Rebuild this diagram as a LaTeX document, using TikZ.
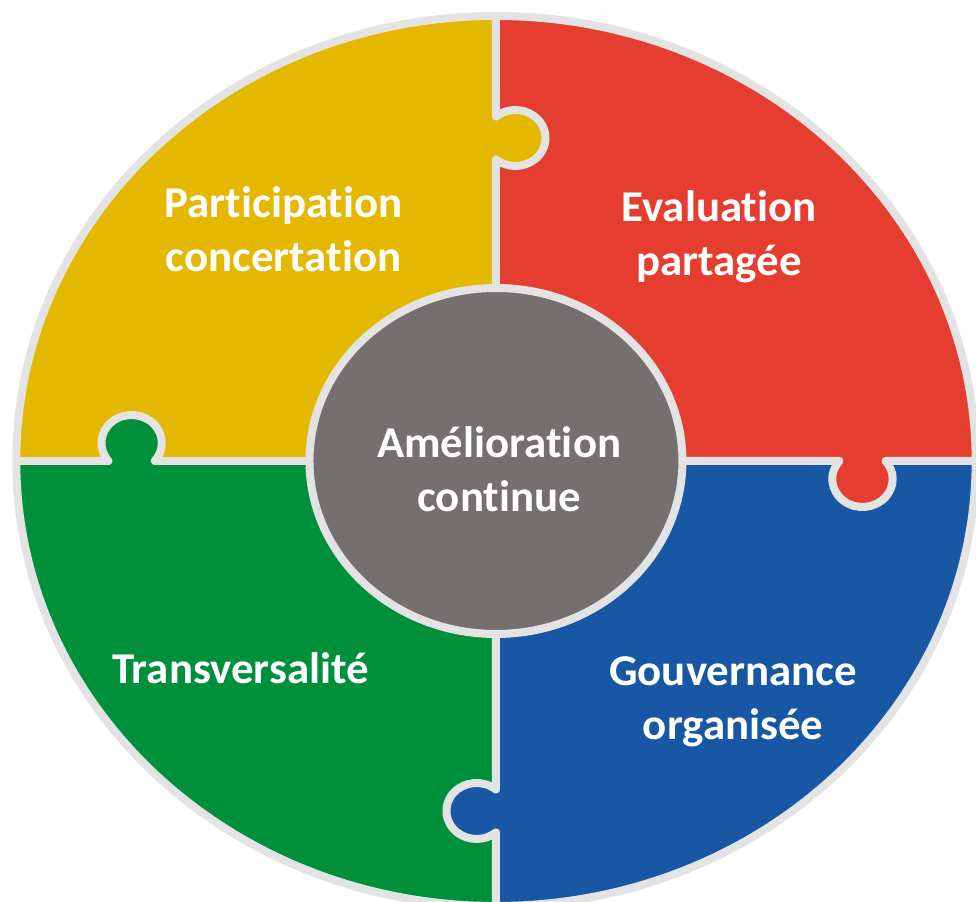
\documentclass[tikz,border=0pt]{standalone}
\usepackage{fontspec}
\setmainfont[Ligatures=NoCommon, FakeStretch=1.02]{Carlito}
\usepackage{tikz}
\usetikzlibrary{calc}

\definecolor{jaune}{HTML}{E5B800}
\definecolor{rouge}{HTML}{E53E30}
\definecolor{bleu}{HTML}{1757A3}
\definecolor{vert}{HTML}{00903B}
\definecolor{gris}{HTML}{757070}
\definecolor{joint}{HTML}{E3E3E3}

\begin{document}
\begin{tikzpicture}
  [
    x=1.078pt, y=1pt,
    Seam/.style={draw=joint, line width=8pt, line join=round},
    Label/.style={text=white, font=\bfseries\fontsize{44}{54}\selectfont, align=center, anchor=base}
  ]
  \useasboundingbox (-460.1,-441) rectangle (445.3,461);
  \clip (-460.1,-441) rectangle (445.3,461);

  % Knob centres (x, y)
  \coordinate (tabT) at (18, 323);
  \coordinate (tabL) at (-338, 18);
  \coordinate (tabR) at (340, -18);
  \coordinate (tabB) at (-18, -350);

  % Quarters
  \fill[jaune] (0,0) -- (0,445) arc[start angle=90, end angle=180, radius=445] -- cycle;
  \fill[rouge] (0,0) -- (445,0) arc[start angle=0, end angle=90, radius=445] -- cycle;
  \fill[vert] (0,0) -- (-445,0) arc[start angle=180, end angle=270, radius=445] -- cycle;
  \fill[bleu] (0,0) -- (0,-445) arc[start angle=270, end angle=360, radius=445] -- cycle;

  % Knobs
  \fill[jaune] (tabT) circle[radius=28];
  \fill[vert] (tabL) circle[radius=28];
  \fill[rouge] (tabR) circle[radius=28];
  \fill[bleu] (tabB) circle[radius=28];

  % Seams
  % top: yellow knob into red
  \path[Seam] (0,445) -- ($(tabT)+(130:28)$) arc[start angle=130, end angle=-130, radius=28] -- (0,0);
  % left: green knob into yellow
  \path[Seam] (-445,0) -- ($(tabL)+(220:28)$) arc[start angle=220, end angle=-40, radius=28] -- (0,0);
  % right: red knob into blue
  \path[Seam] (0,0) -- ($(tabR)+(140:28)$) arc[start angle=140, end angle=400, radius=28] -- (445,0);
  % bottom: blue knob into green
  \path[Seam] (0,0) -- ($(tabB)+(50:28)$) arc[start angle=50, end angle=310, radius=28] -- (0,-445);

  % Rim and hub
  \path[Seam] (0,0) circle[radius=445];
  \path[Seam, fill=gris] (0,0) circle[radius=173];

  % Labels
  \node[Label] (hub) at (3,-51) {Amélioration\\continue};
  \node[Label] (part) at (-197,189) {Participation\\concertation};
  \node[Label] (eval) at (207,185) {Evaluation\\partagée};
  \node[Label] (trans) at (-237,-223) {Transversalité};
  \node[Label] (gouv) at (220,-279) {Gouvernance\\organisée};
\end{tikzpicture}
\end{document}
